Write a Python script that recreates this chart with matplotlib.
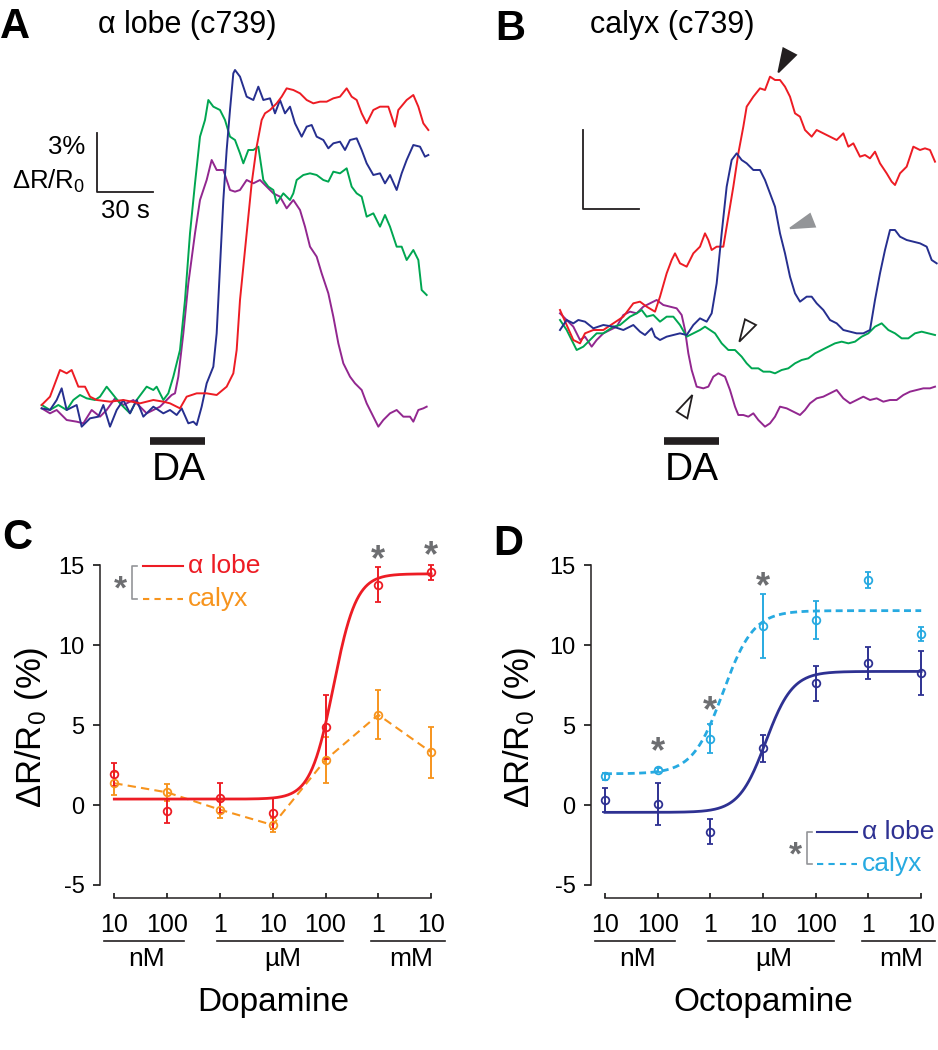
import numpy as np
import matplotlib.pyplot as plt
from matplotlib.patches import Polygon

plt.rcParams['font.family'] = ['Liberation Sans', 'DejaVu Sans']
plt.rcParams['mathtext.fontset'] = 'custom'
plt.rcParams['mathtext.rm'] = 'Liberation Sans'
plt.rcParams['mathtext.it'] = 'Liberation Sans:italic'
plt.rcParams['axes.unicode_minus'] = False

RED = '#ed1c24'
BLUE = '#262f8f'
GREEN = '#00a651'
PURPLE = '#92278f'
ORANGE = '#f7941d'
NAVY = '#2e3192'
SKY = '#27aae1'
GREY = '#6d6e71'
BRACKET = '#939598'

W, H = 938, 1050

# ---- panel A traces, digitised (x, y in 1/3 px of the figure; calibrated below) ----
a_red_x = [125, 150, 165, 180, 200, 215, 235, 255, 270, 290, 330, 370, 420, 460, 490, 510, 540, 560, 590, 620,
           650, 680, 700, 710, 720, 735, 755, 770, 785, 795, 810, 830, 845, 860, 880, 900, 920, 940, 960, 980,
           1000, 1020, 1040, 1055, 1070, 1085, 1100, 1120, 1140, 1165, 1185, 1195, 1220, 1240, 1255, 1270, 1285]
a_red_y = [1215, 1190, 1150, 1110, 1120, 1110, 1160, 1160, 1190, 1200, 1205, 1200, 1210, 1200, 1205, 1210, 1225, 1190, 1180, 1180,
           1185, 1160, 1120, 1050, 900, 750, 550, 440, 360, 340, 330, 310, 290, 265, 270, 280, 300, 310, 305, 305,
           295, 290, 265, 290, 300, 340, 370, 330, 320, 320, 380, 330, 300, 285, 320, 370, 390]
a_blue_x = [125, 150, 170, 185, 200, 230, 245, 270, 295, 310, 330, 350, 370, 390, 410, 430, 460, 490, 510, 530,
            545, 565, 580, 590, 605, 620, 640, 650, 660, 670, 680, 690, 700, 705, 720, 740, 760, 775, 790, 810,
            825, 840, 855, 870, 885, 905, 920, 935, 950, 970, 985, 1000, 1020, 1035, 1050, 1070, 1085, 1100, 1120, 1140,
            1155, 1170, 1190, 1205, 1220, 1240, 1260, 1275, 1285]
a_blue_y = [1225, 1230, 1200, 1165, 1230, 1215, 1280, 1255, 1250, 1215, 1280, 1230, 1200, 1240, 1200, 1250, 1220, 1240, 1230, 1245,
            1225, 1270, 1265, 1275, 1220, 1150, 1100, 1000, 800, 600, 450, 330, 220, 210, 230, 290, 300, 260, 300, 295,
            340, 300, 340, 320, 370, 410, 380, 375, 410, 420, 445, 430, 425, 450, 420, 415, 450, 490, 525, 520,
            550, 525, 570, 520, 480, 435, 440, 470, 465]
a_green_x = [125, 150, 175, 200, 220, 240, 260, 285, 300, 320, 340, 360, 390, 410, 440, 460, 470, 490, 505, 520,
             540, 555, 570, 585, 600, 615, 625, 640, 660, 675, 690, 705, 720, 730, 745, 760, 775, 790, 805, 820,
             830, 850, 870, 880, 890, 910, 930, 950, 970, 985, 1000, 1020, 1040, 1055, 1070, 1085, 1100, 1120, 1140, 1155,
             1170, 1190, 1205, 1220, 1240, 1255, 1265, 1280]
a_green_y = [1215, 1230, 1215, 1230, 1200, 1185, 1195, 1200, 1190, 1160, 1185, 1210, 1240, 1200, 1160, 1170, 1160, 1200, 1180, 1130,
             1050, 900, 700, 550, 410, 360, 300, 320, 330, 360, 410, 420, 460, 490, 450, 450, 440, 540, 560, 570,
             610, 580, 600, 580, 540, 525, 520, 525, 540, 545, 515, 520, 505, 560, 580, 590, 650, 640, 680, 645,
             680, 740, 740, 780, 750, 780, 870, 885]
a_purple_x = [125, 150, 170, 200, 230, 250, 275, 300, 320, 345, 370, 400, 420, 440, 460, 480, 500, 515, 525, 535,
              550, 565, 585, 600, 620, 635, 650, 670, 690, 705, 720, 740, 760, 780, 800, 820, 840, 860, 880, 900,
              915, 930, 950, 965, 985, 1000, 1015, 1030, 1050, 1065, 1085, 1100, 1115, 1135, 1150, 1170, 1190, 1210, 1230, 1240,
              1255, 1270, 1280]
a_purple_y = [1225, 1240, 1230, 1260, 1265, 1270, 1230, 1250, 1230, 1195, 1215, 1200, 1220, 1240, 1230, 1220, 1200, 1185, 1180, 1130,
              1000, 850, 700, 600, 540, 480, 510, 510, 570, 575, 570, 540, 550, 540, 560, 580, 590, 625, 600, 630,
              680, 740, 770, 820, 880, 950, 1030, 1090, 1130, 1150, 1170, 1210, 1240, 1280, 1260, 1240, 1230, 1250, 1250, 1265,
              1230, 1225, 1220]

# ---- panel B traces ----
b_red_x = [270, 290, 310, 330, 345, 370, 400, 430, 460, 490, 510, 530, 555, 570, 590, 605, 615, 630, 650, 670,
           690, 705, 715, 725, 740, 760, 775, 790, 805, 820, 830, 850, 870, 885, 900, 915, 930, 945, 960, 975,
           990, 1005, 1025, 1040, 1060, 1080, 1100, 1120, 1135, 1150, 1170, 1185, 1200, 1215, 1230, 1250, 1265, 1275, 1290, 1310,
           1330, 1350, 1365, 1380, 1395]
b_red_y = [930, 975, 1020, 1030, 1000, 990, 990, 970, 950, 910, 905, 920, 935, 890, 820, 780, 760, 790, 800, 760,
           740, 700, 720, 750, 740, 740, 650, 560, 460, 380, 320, 290, 265, 270, 230, 240, 240, 260, 290, 340,
           350, 390, 410, 390, 400, 410, 420, 400, 440, 430, 470, 465, 475, 455, 490, 520, 545, 555, 520, 500,
           440, 450, 445, 450, 485]
b_blue_x = [270, 290, 310, 325, 345, 370, 400, 430, 460, 490, 510, 525, 545, 555, 570, 590, 610, 630, 650, 670,
            690, 710, 725, 740, 755, 770, 785, 800, 815, 830, 850, 870, 885, 900, 915, 930, 945, 960, 975, 990,
            1010, 1025, 1040, 1060, 1080, 1100, 1120, 1140, 1160, 1180, 1200, 1215, 1230, 1245, 1260, 1275, 1290, 1310, 1330, 1350,
            1370, 1385, 1400]
b_blue_y = [990, 960, 970, 960, 965, 985, 975, 980, 990, 975, 995, 1005, 985, 1010, 1020, 1010, 1005, 1000, 1005, 975,
            955, 965, 940, 850, 700, 560, 480, 460, 480, 490, 510, 510, 540, 580, 620, 700, 760, 830, 880, 905,
            890, 890, 910, 930, 960, 970, 990, 995, 1000, 1000, 990, 900, 820, 750, 690, 690, 710, 720, 725, 730,
            740, 780, 790]
b_green_x = [270, 290, 305, 320, 340, 360, 380, 400, 430, 450, 480, 500, 515, 530, 550, 570, 590, 610, 630, 650,
             670, 690, 705, 720, 735, 755, 775, 795, 815, 830, 845, 865, 880, 900, 915, 935, 955, 975, 995, 1015,
             1035, 1055, 1075, 1095, 1115, 1135, 1155, 1175, 1195, 1215, 1235, 1255, 1275, 1295, 1315, 1335, 1355, 1375, 1395]
b_green_y = [960, 990, 1020, 1050, 1040, 1020, 1000, 1000, 980, 975, 950, 940, 930, 950, 945, 965, 950, 950, 975, 1010,
             1000, 990, 980, 990, 1000, 1030, 1050, 1050, 1070, 1090, 1105, 1105, 1115, 1115, 1120, 1110, 1105, 1090, 1080, 1075,
             1060, 1050, 1040, 1030, 1025, 1030, 1025, 1010, 1000, 980, 970, 990, 1000, 1015, 1015, 1000, 995, 1000, 1005]
b_purple_x = [270, 290, 310, 330, 345, 365, 380, 400, 420, 440, 460, 480, 500, 520, 540, 560, 580, 600, 620, 635,
              645, 655, 665, 680, 700, 715, 730, 745, 765, 780, 795, 805, 820, 835, 850, 865, 885, 900, 915, 930,
              950, 970, 990, 1005, 1020, 1040, 1060, 1080, 1100, 1120, 1140, 1160, 1180, 1200, 1220, 1240, 1260, 1280, 1300, 1320,
              1340, 1360, 1380, 1395]
b_purple_y = [940, 960, 980, 1020, 1010, 1040, 1020, 1000, 990, 980, 945, 935, 940, 920, 910, 900, 915, 920, 925, 945,
              990, 1060, 1110, 1160, 1165, 1160, 1130, 1120, 1130, 1170, 1220, 1245, 1245, 1250, 1240, 1260, 1280, 1270, 1250, 1220,
              1225, 1235, 1245, 1230, 1210, 1195, 1190, 1180, 1170, 1195, 1210, 1200, 1190, 1200, 1195, 1205, 1200, 1200, 1185, 1175,
              1170, 1165, 1165, 1160]

# ---- dose response (C, D) ----
conc_log = [-8, -7, -6, -5, -4, -3, -2]
conc_labels = ['10', '100', '1', '10', '100', '1', '10']

da_lobe = [1.92, -0.38, 0.46, -0.52, 4.86, 13.78, 14.55]
da_lobe_err = [0.71, 0.77, 0.94, 0.98, 2.0, 1.1, 0.48]
da_calyx = [1.36, 0.79, -0.29, -1.25, 2.82, 5.64, 3.30]
da_calyx_err = [0.73, 0.52, 0.54, 0.46, 1.46, 1.52, 1.6]

oa_lobe = [0.31, 0.04, -1.67, 3.54, 7.60, 8.85, 8.25]
oa_lobe_err = [0.75, 1.31, 0.79, 0.83, 1.12, 1.0, 1.35]
oa_calyx = [1.81, 2.19, 4.15, 11.19, 11.56, 14.06, 10.69]
oa_calyx_err = [0.22, 0.12, 0.9, 1.98, 1.19, 0.52, 0.46]

# Hill fits: bottom, top, logEC50, slope
da_lobe_fit = (0.37, 14.45, -3.85, 2.0)
oa_lobe_fit = (-0.46, 8.35, -4.95, 1.7)
oa_calyx_fit = (1.95, 12.15, -5.76, 1.5)

# significance marks (x, y of the star)
da_stars = [(-3, 15.75), (-2, 16.0)]
oa_stars = [(-7, 3.75), (-6, 6.31), (-5, 14.06)]


def to_units(xs, ys, x0, y0, per_s, per_pct):
    t = (np.asarray(xs, dtype=float) - x0) / per_s
    v = (y0 - np.asarray(ys, dtype=float)) / per_pct
    return t, v


def cal_a(xs, ys):
    return to_units(xs, ys, 125, 1215, 5.6, 59.0)


def cal_b(xs, ys):
    return to_units(xs, ys, 270, 990, 5.6, 79.3)


def hill(x, p):
    bottom, top, ec, n = p
    return bottom + (top - bottom) / (1 + 10 ** ((ec - x) * n))


def star(ax, x, y, size=26):
    # '*' sits high in its text box, so nudge it down a little
    ax.text(x, y - 0.5, '*', ha='center', va='center', fontsize=size,
            fontweight='bold', color=GREY, clip_on=False)


fig = plt.figure(figsize=(W / 100, H / 100), dpi=100)

# ---------------- panel A ----------------
axa = fig.add_axes([0, 1 - 500 / H, 470 / W, 500 / H])
axa.axis('off')
t0, v0 = cal_a(0, 1500)
t1, v1 = cal_a(1410, 0)
axa.set_xlim(t0, t1)
axa.set_ylim(v0, v1)
for xs, ys, c in [(a_purple_x, a_purple_y, PURPLE), (a_green_x, a_green_y, GREEN),
                  (a_blue_x, a_blue_y, BLUE), (a_red_x, a_red_y, RED)]:
    t, v = cal_a(xs, ys)
    axa.plot(t, v, color=c, lw=1.4)
st, sv = cal_a(290, 577)
axa.plot([st, st, st + 30], [sv + 3, sv, sv], color='#231f20', lw=1.3)
tx, ty = cal_a(255, 463)
axa.text(tx, ty, '3%', ha='right', va='baseline', fontsize=18.5)
tx, ty = cal_a(255, 565)
axa.text(tx, ty, 'ΔR/R$_0$', ha='right', va='baseline', fontsize=18.5)
tx, ty = cal_a(375, 655)
axa.text(tx, ty, '30 s', ha='center', va='baseline', fontsize=18.5)
bt, bv = cal_a([450, 615], [1322, 1322])
axa.plot(bt, bv, color='#231f20', lw=5.5, solid_capstyle='butt')
tx, ty = cal_a(535, 1440)
axa.text(tx, ty, 'DA', ha='center', va='baseline', fontsize=28)

# ---------------- panel B ----------------
axb = fig.add_axes([470 / W, 1 - 500 / H, 468 / W, 500 / H])
axb.axis('off')
t0, v0 = cal_b(0, 1500)
t1, v1 = cal_b(1404, 0)
axb.set_xlim(t0, t1)
axb.set_ylim(v0, v1)
for xs, ys, c in [(b_purple_x, b_purple_y, PURPLE), (b_green_x, b_green_y, GREEN),
                  (b_red_x, b_red_y, RED), (b_blue_x, b_blue_y, BLUE)]:
    t, v = cal_b(xs, ys)
    axb.plot(t, v, color=c, lw=1.4)
st, sv = cal_b(340, 628)
axb.plot([st, st, st + 30], [sv + 3, sv, sv], color='#231f20', lw=1.3)
bt, bv = cal_b([583, 748], [1322, 1322])
axb.plot(bt, bv, color='#231f20', lw=5.5, solid_capstyle='butt')
tx, ty = cal_b(665, 1440)
axb.text(tx, ty, 'DA', ha='center', va='baseline', fontsize=28)

arrows = [
    ([925, 940, 978], [217, 145, 165], '#231f20', '#231f20'),
    ([960, 1020, 1035], [685, 642, 680], '#939598', '#939598'),
    ([808, 825, 858], [1025, 958, 975], 'white', '#231f20'),
    ([620, 667, 652], [1235, 1185, 1255], 'white', '#231f20'),
]
for xs, ys, fc, ec in arrows:
    t, v = cal_b(xs, ys)
    axb.add_patch(Polygon(np.column_stack([t, v]), closed=True, facecolor=fc,
                          edgecolor=ec, lw=1.3, zorder=5))

# panel letters and titles
for letter, px, py in [('A', 0, 38), ('B', 495, 40), ('C', 2, 549), ('D', 493, 555)]:
    fig.text(px / W, 1 - py / H, letter, fontsize=30, fontweight='bold', va='baseline', ha='left')
fig.text(98 / W, 1 - 33 / H, 'α lobe (c739)', fontsize=22, va='baseline', ha='left')
fig.text(590 / W, 1 - 33 / H, 'calyx (c739)', fontsize=22, va='baseline', ha='left')

# ---------------- panels C and D ----------------
ybottom = 1 - 897.7 / H
yheight = 367.7 / H
axc = fig.add_axes([100 / W, ybottom, 350 / W, yheight])
axd = fig.add_axes([590.7 / W, ybottom, 349.3 / W, yheight])
axc.set_xlim(-8.271, -1.642)
axd.set_xlim(-8.271, -1.643)

xs_fit = np.linspace(-8, -2, 300)

for ax in (axc, axd):
    ax.set_ylim(-5.794, 17.19)
    ax.patch.set_alpha(0)
    ax.spines[['top', 'right']].set_visible(False)
    ax.spines['left'].set_bounds(-5, 15)
    ax.spines['bottom'].set_bounds(-8, -2)
    for s in ('left', 'bottom'):
        ax.spines[s].set_linewidth(1.1)
        ax.spines[s].set_color('#231f20')
    ax.set_yticks([-5, 0, 5, 10, 15])
    ax.set_xticks(conc_log, conc_labels)
    ax.tick_params(axis='y', direction='out', length=5, width=1.1, labelsize=17, pad=6)
    ax.tick_params(axis='x', direction='in', length=3.6, width=1.1, labelsize=18, pad=11)
    for (x1, x2), unit in [((-8.19, -6.68), 'nM'), ((-6.05, -3.66), 'µM'), ((-3.13, -1.73), 'mM')]:
        ax.plot([x1, x2], [-8.48, -8.48], color='#231f20', lw=1.2, clip_on=False)
        ax.text((x1 + x2) / 2 + 0.05, -9.6, unit, ha='center', va='center', fontsize=19)

ebkw = dict(fmt='o', ms=5.5, mfc='none', mew=1.3, elinewidth=1.4, capsize=2.5, capthick=1.4)

# C: dopamine
axc.plot(conc_log, da_calyx, color=ORANGE, lw=1.5, dashes=(4, 2.5))
axc.errorbar(conc_log, da_calyx, yerr=da_calyx_err, color=ORANGE, **ebkw)
axc.plot(xs_fit, hill(xs_fit, da_lobe_fit), color=RED, lw=2)
axc.errorbar(conc_log, da_lobe, yerr=da_lobe_err, color=RED, **ebkw)
for x, y in da_stars:
    star(axc, x, y)
axc.plot([-7.457, -6.699], [14.96, 14.96], color=RED, lw=1.5, clip_on=False)
axc.plot([-7.457, -6.699], [12.88, 12.88], color=ORANGE, lw=1.5, dashes=(3, 2.5), clip_on=False)
axc.text(-6.604, 14.96, 'α lobe', color=RED, fontsize=19, va='center', ha='left')
axc.text(-6.604, 12.9, 'calyx', color=ORANGE, fontsize=19, va='center', ha='left')
axc.plot([-7.576, -7.67, -7.67, -7.576], [14.96, 14.96, 12.88, 12.88], color=BRACKET, lw=1.2, clip_on=False)
star(axc, -7.89, 13.94, size=24)

# D: octopamine
axd.plot(xs_fit, hill(xs_fit, oa_calyx_fit), color=SKY, lw=2, dashes=(2.5, 1.6))
axd.errorbar(conc_log, oa_calyx, yerr=oa_calyx_err, color=SKY, **ebkw)
axd.plot(xs_fit, hill(xs_fit, oa_lobe_fit), color=NAVY, lw=2)
axd.errorbar(conc_log, oa_lobe, yerr=oa_lobe_err, color=NAVY, **ebkw)
for x, y in oa_stars:
    star(axd, x, y)
axd.plot([-3.983, -3.224], [-1.67, -1.67], color=NAVY, lw=1.5)
axd.plot([-3.983, -3.224], [-3.71, -3.71], color=SKY, lw=1.5, dashes=(3, 2.5))
axd.text(-3.129, -1.67, 'α lobe', color=NAVY, fontsize=19, va='center', ha='left')
axd.text(-3.129, -3.69, 'calyx', color=SKY, fontsize=19, va='center', ha='left')
axd.plot([-4.078, -4.173, -4.173, -4.078], [-1.67, -1.67, -3.71, -3.71], color=BRACKET, lw=1.2)
star(axd, -4.395, -2.69, size=24)

# axis labels
for px in (32, 520):
    fig.text(px / W, 1 - 727 / H, 'ΔR/R$_0$ (%)', rotation=90, ha='center', va='center', fontsize=25)
fig.text(273 / W, 1 - 1003 / H, 'Dopamine', ha='center', va='center', fontsize=24)
fig.text(763 / W, 1 - 1003 / H, 'Octopamine', ha='center', va='center', fontsize=24)

fig.savefig('out.png', dpi=100)
